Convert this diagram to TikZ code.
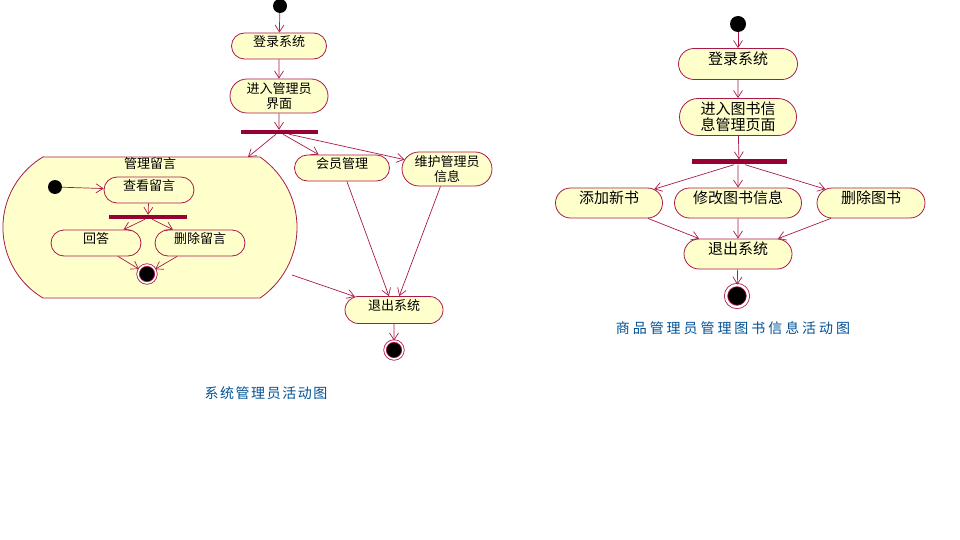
\documentclass[tikz,border=0pt]{standalone}
\usepackage{fontspec}
\usepackage{tikz}
\usetikzlibrary{arrows.meta,shapes.misc}
\newfontfamily\cjk{Noto Sans CJK SC}
\newfontfamily\capfontL[LetterSpace=11]{Noto Sans CJK SC}
\newfontfamily\capfontR[LetterSpace=21]{Noto Sans CJK SC}
\definecolor{umlline}{RGB}{170,25,75}
\definecolor{umlbar}{RGB}{150,0,50}
\definecolor{umlfill}{RGB}{255,255,204}
\definecolor{capblue}{RGB}{0,82,150}
\newcommand{\fsL}{\fontsize{13}{15}\selectfont}
\newcommand{\fsR}{\fontsize{15}{16.5}\selectfont}
\tikzset{
  act/.style={rounded rectangle, draw=umlline, fill=umlfill, line width=0.8pt, inner sep=1pt, align=center, font=\cjk\fsL},
  actR/.style={act, font=\cjk\fsR},
  lift/.style={text depth=#1},
  lift/.default=10pt,
  init/.style={circle, fill=black, inner sep=0pt, minimum size=14pt},
  fin/.style={circle, fill=black, draw=umlline, line width=0.8pt, double=white, double distance=1.6pt, inner sep=0pt, minimum size=18pt},
  bar/.style={rectangle, fill=umlbar, inner sep=0pt, minimum height=4pt},
  flow/.style={-{Straight Barb[length=7pt, width=9pt]}, umlline, line width=0.7pt},
  sup/.style={draw=umlline, fill=umlfill, line width=0.8pt},
  diacap/.style={text=capblue},
}
\begin{document}
\begin{tikzpicture}[x=1pt,y=-1pt]
\fill[white] (0,0) rectangle (960,540);
\useasboundingbox (0,0) rectangle (960,540);
% left: system administrator
\node[init] (s0) at (280,6) {};
\node[act, lift, minimum width=97, minimum height=26] (login) at (279,46) {登录系统};
\node[act, minimum width=100, minimum height=34] (enter) at (279,96) {进入管理员\\界面};
\node[bar, minimum width=77] (fork) at (279,132) {};
\draw[sup] (43,157) -- (260,157) arc[start angle=-55.4, end angle=55.4, radius=85.7]
  -- (43,298) arc[start angle=120.8, end angle=239.2, radius=82.1] -- cycle;
\coordinate (supin) at (248,157);
\coordinate (supout) at (292,275);
\node[font=\cjk\fsL] (suptitle) at (150,164) {管理留言};
\node[init] (s1) at (55,187) {};
\node[act, lift, minimum width=92, minimum height=26] (view) at (149,190) {查看留言};
\node[bar, minimum width=78] (fork2) at (148,217) {};
\node[act, lift, minimum width=92, minimum height=26] (reply) at (96,243) {回答};
\node[act, lift, minimum width=92, minimum height=26] (del) at (200,243) {删除留言};
\node[fin] (end2) at (147,274) {};
\node[act, lift, minimum width=97, minimum height=26] (member) at (342,168) {会员管理};
\node[act, minimum width=92, minimum height=34] (maint) at (447,169) {维护管理员\\信息};
\node[act, lift, minimum width=100, minimum height=27] (exit) at (394,310) {退出系统};
\node[fin] (end) at (394,350) {};
\draw[flow] (s0) -- (login);
\draw[flow] (login) -- (enter);
\draw[flow] (enter) -- (fork);
\draw[flow] ([xshift=-3pt]fork.south) -- (supin);
\draw[flow] ([xshift=4pt]fork.south) -- (member);
\draw[flow] ([xshift=10pt]fork.south) -- (maint);
\draw[flow] (s1) -- (view);
\draw[flow] (view) -- (fork2);
\draw[flow] ([xshift=-3pt]fork2.south) -- (reply);
\draw[flow] ([xshift=4pt]fork2.south) -- (del);
\draw[flow] (reply) -- (end2);
\draw[flow] (del) -- (end2);
\draw[flow] (supout) -- (exit);
\draw[flow] (member) -- (exit);
\draw[flow] (maint) -- (exit);
\draw[flow] (exit) -- (end);
\node[diacap, font=\capfontL\fontsize{14}{16}\selectfont] (cap1) at (266,393) {系统管理员活动图};
% right: book information
\node[init, minimum size=16pt] (t0) at (738,24) {};
\node[actR, lift=11pt, minimum width=121, minimum height=31] (login2) at (738,64) {登录系统};
\node[actR, minimum width=119, minimum height=37] (enter2) at (738,117) {进入图书信\\息管理页面};
\node[bar, minimum width=95, minimum height=5pt] (fork3) at (739,162) {};
\node[actR, lift=11pt, minimum width=109, minimum height=30] (add) at (609,203) {添加新书};
\node[actR, lift=11pt, minimum width=129, minimum height=30] (edit) at (738,203) {修改图书信息};
\node[actR, lift=11pt, minimum width=110, minimum height=30] (remove) at (871,203) {删除图书};
\node[actR, lift=11pt, minimum width=110, minimum height=30] (exit2) at (738,254) {退出系统};
\node[fin, minimum size=22pt, double distance=2.4pt] (end3) at (737,296) {};
\draw[flow] (t0) -- (login2);
\draw[flow] (login2) -- (enter2);
\draw[flow] (enter2) -- (fork3);
\draw[flow] ([xshift=-5pt]fork3.south) -- (add);
\draw[flow] (fork3.south -| edit) -- (edit);
\draw[flow] ([xshift=6pt]fork3.south) -- (remove);
\draw[flow] (add) -- (exit2);
\draw[flow] (edit) -- (exit2);
\draw[flow] (remove) -- (exit2);
\draw[flow] (exit2) -- (end3);
\node[diacap, font=\capfontR\fontsize{14}{16}\selectfont] (cap2) at (733,328) {商品管理员管理图书信息活动图};
\end{tikzpicture}
\end{document}
